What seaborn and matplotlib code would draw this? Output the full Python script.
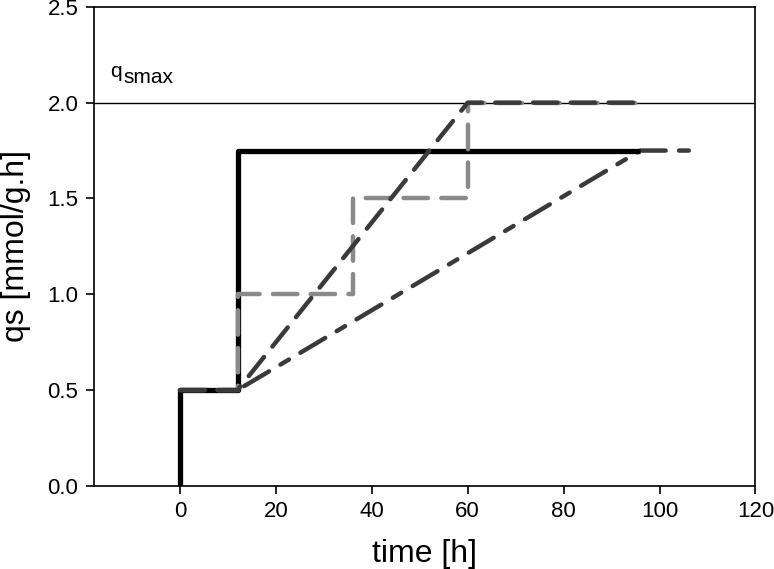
import matplotlib
matplotlib.use("Agg")
import matplotlib.pyplot as plt
import seaborn as sns
import pandas as pd

sns.set_theme(style="ticks")
plt.rcParams['font.family'] = ['Liberation Sans', 'DejaVu Sans']
plt.rcParams['text.color'] = 'black'
plt.rcParams['axes.labelcolor'] = 'black'
plt.rcParams['xtick.color'] = 'black'
plt.rcParams['ytick.color'] = 'black'

# Feeding strategies: time [h] and qs [mmol/g.h]
step_t = [0, 0, 12, 12, 96]
step_q = [0, 0.5, 0.5, 1.75, 1.75]

stair_t = [0, 12, 12, 36, 36, 60, 60, 96]
stair_q = [0.5, 0.5, 1.0, 1.0, 1.5, 1.5, 2.0, 2.0]

ramp_fast_t = [0, 12, 60, 96]
ramp_fast_q = [0.5, 0.5, 2.0, 2.0]

ramp_slow_t = [0, 12, 96, 108]
ramp_slow_q = [0.5, 0.5, 1.75, 1.75]

qsmax = 2.0

fig = plt.figure(figsize=(7.74, 5.69), dpi=100)
ax = fig.add_axes([0.121, 0.146, 0.855, 0.842])

ax.axhline(qsmax, color='black', lw=1.0, zorder=1)

series = [
    (ramp_slow_t, ramp_slow_q, '#3a3a3a', (0, (6.5, 3.0, 2.2, 3.0)), 3.2, 2),
    (stair_t, stair_q, '#8a8a8a', (0, (5.5, 3.0)), 3.2, 3),
    (ramp_fast_t, ramp_fast_q, '#3a3a3a', (0, (5.5, 3.0)), 3.2, 4),
    (step_t, step_q, '#000000', '-', 3.8, 2.5),
]
for t, q, c, ls, lw, z in series:
    df = pd.DataFrame({'t': t, 'q': q})
    sns.lineplot(data=df, x='t', y='q', sort=False, estimator=None, ax=ax,
                 color=c, lw=lw, linestyle=ls, zorder=z,
                 dash_capstyle='round', solid_capstyle='butt')

ax.text(-14.6, 2.135, 'q', fontsize=15, ha='left', va='baseline')
ax.text(-11.7, 2.10, 'smax', fontsize=15, ha='left', va='baseline')

ax.set_xlim(-18, 120)
ax.set_ylim(0, 2.5)
ax.set_xticks([0, 20, 40, 60, 80, 100, 120])
ax.set_yticks([0.0, 0.5, 1.0, 1.5, 2.0, 2.5])
ax.set_yticklabels(['0.0', '0.5', '1.0', '1.5', '2.0', '2.5'])
ax.tick_params(axis='both', labelsize=16, direction='out', length=6, width=1.2,
               color='black', pad=5)
for s in ax.spines.values():
    s.set_color('black')
    s.set_linewidth(1.2)
ax.set_xlabel('time [h]', fontsize=23, labelpad=12)
ax.set_ylabel('qs [mmol/g.h]', fontsize=23, labelpad=12)

fig.savefig('out.png', dpi=100)
